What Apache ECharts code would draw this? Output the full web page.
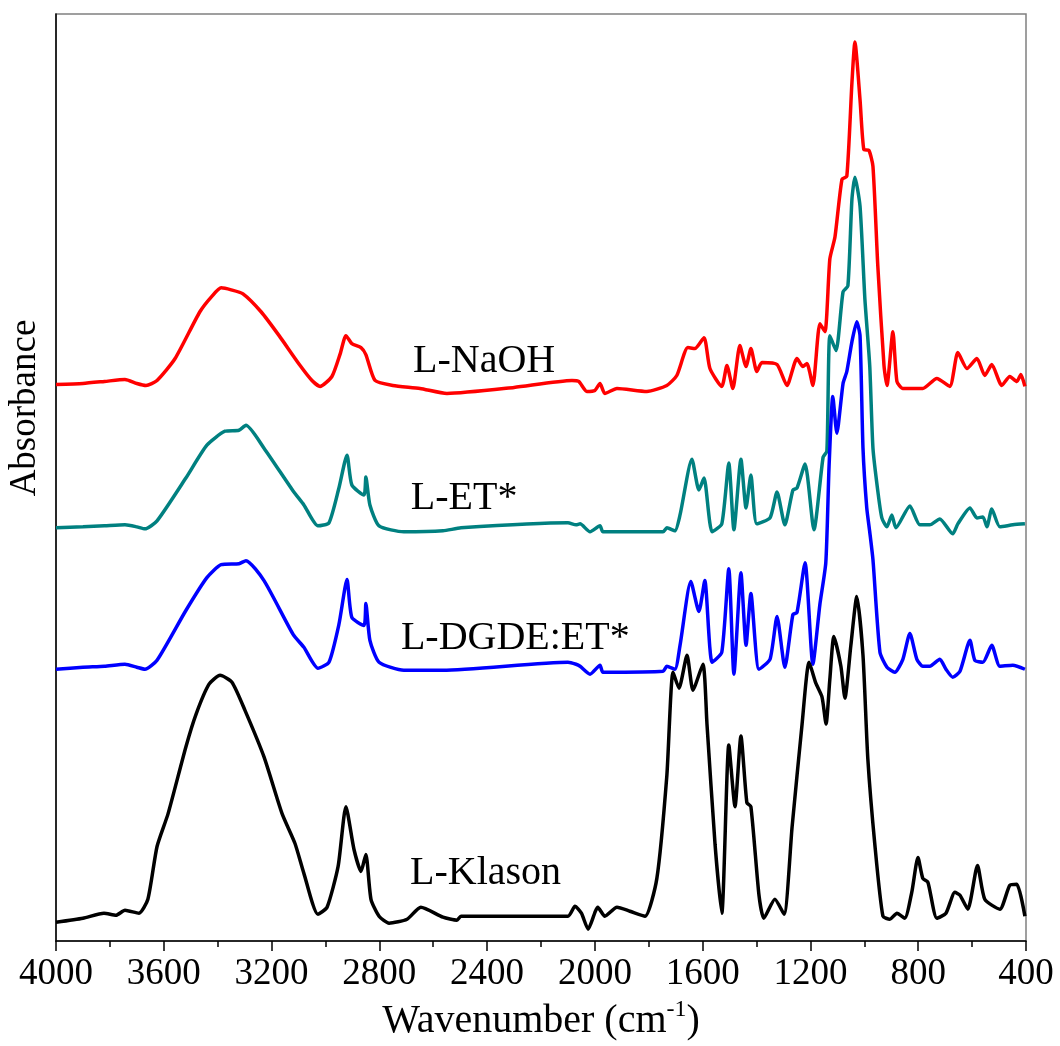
<!DOCTYPE html>
<html>
<head>
<meta charset="utf-8">
<script src="https://cdn.jsdelivr.net/npm/echarts@6/dist/echarts.min.js"></script>
<style>
  html, body { margin: 0; padding: 0; background: #fff; }
  #chart { width: 1060px; height: 1046px; }
</style>
</head>
<body>
<div id="chart"></div>
<script>
// FTIR spectra, offset vertically (arbitrary absorbance units)
// [wavenumber cm-1, absorbance]
const naoh = [[4000,55.9],[3900,56.0],[3820,56.2],[3744,56.4],[3700,56.0],[3666,55.8],[3625,56.3],[3558,58.5],[3466,63.2],[3420,64.8],[3387,65.6],[3350,65.4],[3306,65.0],[3239,63.2],[3172,60.8],[3094,57.8],[3050,56.3],[3020,55.7],[2976,56.7],[2945,59.0],[2924,60.8],[2902,60.0],[2868,59.6],[2850,58.9],[2816,56.3],[2750,55.8],[2649,55.5],[2549,55.0],[2300,55.6],[2085,56.3],[2060,56.2],[2030,55.2],[2000,55.3],[1981,56.0],[1963,55.0],[1918,55.5],[1807,55.2],[1733,55.8],[1696,56.8],[1655,59.6],[1629,59.5],[1595,60.6],[1573,57.5],[1529,55.7],[1510,57.8],[1488,55.5],[1462,59.8],[1439,57.7],[1421,59.5],[1399,57.2],[1380,58.1],[1324,57.9],[1287,55.8],[1250,58.5],[1228,57.7],[1213,58.0],[1191,55.8],[1165,62.0],[1146,61.2],[1128,68.5],[1109,70.7],[1083,76.5],[1065,76.8],[1046,86.2],[1035,90.3],[1016,84.5],[1002,79.5],[983,79.4],[968,77.8],[950,67.8],[927,57.8],[916,55.8],[894,61.2],[879,56.2],[857,55.5],[783,55.5],[731,56.5],[683,55.7],[653,59.1],[619,57.5],[582,58.5],[553,56.8],[527,57.9],[490,55.8],[460,56.7],[434,56.2],[419,56.9],[404,55.7]];

const et = [[4000,41.5],[3900,41.6],[3820,41.7],[3744,41.8],[3700,41.6],[3670,41.4],[3625,42.2],[3518,46.5],[3440,49.8],[3373,51.2],[3321,51.3],[3295,51.8],[3228,49.5],[3120,45.2],[3080,43.8],[3028,41.7],[2987,42.0],[2950,45.5],[2920,48.8],[2902,45.8],[2857,44.8],[2850,46.6],[2835,43.8],[2801,41.7],[2709,41.1],[2564,41.2],[2497,41.5],[2100,42.0],[2070,41.8],[2055,41.9],[2018,41.1],[1981,41.7],[1970,41.1],[1747,41.1],[1733,41.5],[1703,41.2],[1684,42.8],[1640,48.4],[1614,45.3],[1595,46.5],[1565,41.1],[1529,41.9],[1503,48.0],[1484,41.3],[1458,48.4],[1439,43.5],[1421,46.8],[1399,41.9],[1350,42.5],[1324,45.1],[1295,41.8],[1265,45.3],[1250,45.5],[1220,47.9],[1187,41.3],[1153,48.6],[1139,49.2],[1128,60.8],[1105,59.3],[1079,65.2],[1061,65.8],[1046,74.5],[1035,76.7],[1016,73.8],[998,64.5],[980,57.8],[968,49.5],[950,45.2],[935,42.5],[916,41.6],[898,42.8],[883,41.5],[831,43.7],[794,41.8],[757,41.8],[720,42.4],[672,40.9],[653,41.9],[608,43.5],[582,42.5],[560,42.6],[545,41.6],[527,43.4],[497,41.6],[449,41.8],[404,41.9]];

const dgde = [[4000,27.3],[3900,27.5],[3820,27.6],[3744,27.8],[3700,27.5],[3670,27.3],[3625,28.2],[3518,33.2],[3440,36.5],[3387,37.8],[3321,37.9],[3295,38.2],[3228,36.2],[3120,30.8],[3080,29.5],[3028,27.4],[2987,28.0],[2950,31.8],[2920,36.3],[2902,32.5],[2857,31.7],[2850,33.9],[2835,30.2],[2801,28.0],[2709,27.2],[2564,27.2],[2100,28.0],[2070,27.8],[2055,27.6],[2018,26.8],[1981,27.7],[1970,27.0],[1747,27.1],[1733,27.6],[1703,27.3],[1684,29.7],[1644,36.1],[1614,33.1],[1592,36.2],[1565,28.0],[1529,29.0],[1503,37.4],[1484,26.8],[1458,37.0],[1439,29.7],[1421,34.9],[1391,27.3],[1350,28.3],[1324,32.6],[1295,27.5],[1265,32.8],[1250,33.0],[1220,38.0],[1191,27.8],[1165,33.8],[1143,38.0],[1131,47.6],[1117,54.7],[1102,51.0],[1079,56.0],[1065,57.2],[1046,60.2],[1028,62.2],[1016,60.8],[1005,49.5],[991,43.5],[980,41.1],[968,38.3],[942,29.0],[916,27.5],[887,27.0],[857,28.3],[831,30.9],[805,28.3],[783,27.6],[757,27.6],[720,28.3],[697,27.3],[672,26.5],[645,27.1],[608,30.2],[590,28.2],[560,28.0],[527,29.7],[497,27.6],[449,27.7],[404,27.3]];

const klason = [[4000,1.9],[3900,2.3],[3822,2.8],[3777,2.6],[3744,3.1],[3692,2.8],[3659,4.2],[3625,9.5],[3584,12.8],[3518,19.5],[3480,22.8],[3432,25.8],[3391,26.7],[3347,26.0],[3299,23.2],[3228,18.5],[3161,12.8],[3113,9.8],[3080,6.8],[3028,2.7],[2994,3.4],[2953,7.5],[2924,13.5],[2894,9.2],[2868,7.0],[2850,8.7],[2831,4.2],[2801,2.5],[2764,1.8],[2697,2.2],[2646,3.4],[2564,2.4],[2512,2.1],[2497,2.5],[2100,2.5],[2074,3.5],[2050,2.8],[2025,1.2],[1989,3.4],[1963,2.5],[1918,3.4],[1870,3.0],[1814,2.5],[1770,6.3],[1733,16.6],[1710,27.0],[1688,25.4],[1658,28.7],[1636,25.2],[1599,27.8],[1584,21.8],[1554,9.7],[1529,2.8],[1503,19.7],[1480,13.5],[1458,20.6],[1436,13.9],[1421,13.5],[1391,4.6],[1373,2.3],[1332,4.2],[1298,2.7],[1268,11.5],[1231,21.8],[1205,28.0],[1180,25.9],[1157,24.5],[1142,21.8],[1128,26.3],[1113,30.6],[1087,27.6],[1072,24.4],[1050,29.7],[1028,34.6],[1005,28.7],[987,18.3],[961,9.7],[931,2.5],[905,2.2],[879,2.8],[850,2.3],[824,4.9],[801,8.4],[783,6.3],[764,5.9],[731,2.3],[697,2.8],[664,4.9],[645,4.6],[616,3.2],[580,7.6],[553,4.2],[497,3.2],[460,5.6],[434,5.7],[404,2.5]];

// curve labels: text, anchored at [wavenumber, absorbance] (left / middle)
const curveLabels = [
  { text: 'L-NaOH', at: [2675, 58.2] },
  { text: 'L-ET*', at: [2683, 44.4] },
  { text: 'L-DGDE:ET*', at: [2720, 30.4] },
  { text: 'L-Klason', at: [2686, 6.8] }
];

const serif = '"Liberation Serif", "Times New Roman", serif';
const chart = echarts.init(document.getElementById('chart'));

function line(name, data, color) {
  return {
    name: name, type: 'line', data: data,
    showSymbol: false, smooth: 0.2,
    lineStyle: { color: color, width: 3.5 },
    itemStyle: { color: color }
  };
}

chart.setOption({
  animation: false,
  grid: { left: 56, right: 34, top: 14, bottom: 101, show: true, borderColor: '#808080', borderWidth: 1.5 },
  xAxis: {
    type: 'value', inverse: true, min: 400, max: 4000, interval: 400,
    axisLine: { lineStyle: { color: '#000', width: 1.5 } },
    axisTick: { length: 10, lineStyle: { color: '#000', width: 1.5 } },
    minorTick: { show: true, splitNumber: 2, length: 6, lineStyle: { color: '#000', width: 1.5 } },
    splitLine: { show: false },
    axisLabel: { fontFamily: serif, fontSize: 37, color: '#000', margin: 15, formatter: function (v) { return String(v); } },
    name: '{a|Wavenumber (cm}{s|-1}{a|)}',
    nameLocation: 'middle', nameGap: 52,
    nameTextStyle: {
      rich: {
        a: { fontFamily: serif, fontSize: 40, color: '#000', lineHeight: 46 },
        s: { fontFamily: serif, fontSize: 24, color: '#000', verticalAlign: 'top', lineHeight: 46 }
      }
    }
  },
  yAxis: {
    type: 'value', min: 0, max: 93.1,
    axisLine: { show: true, lineStyle: { color: '#000', width: 1.5 } },
    axisTick: { show: false },
    axisLabel: { show: false },
    splitLine: { show: false }
  },
  series: [
    line('L-NaOH', naoh, '#ff0000'),
    line('L-ET*', et, '#008080'),
    line('L-DGDE:ET*', dgde, '#0000ff'),
    line('L-Klason', klason, '#000000')
  ]
});

const graphics = curveLabels.map(function (l) {
  const p = chart.convertToPixel({ gridIndex: 0 }, l.at);
  return {
    type: 'text', x: p[0], y: p[1],
    style: { text: l.text, font: '40px ' + serif, fill: '#000', align: 'left', verticalAlign: 'middle' }
  };
});
graphics.push({
  type: 'text', x: 25, y: 408, rotation: Math.PI / 2,
  style: { text: 'Absorbance', font: '37px ' + serif, fill: '#000', align: 'center', verticalAlign: 'middle' }
});
chart.setOption({ graphic: graphics });
</script>
</body>
</html>
